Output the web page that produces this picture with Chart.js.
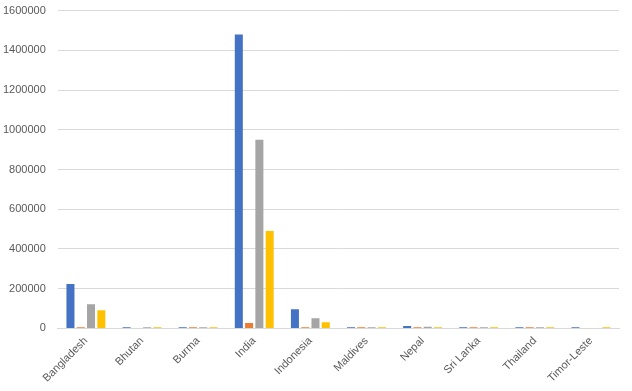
<!DOCTYPE html>
<html>
<head>
<meta charset="utf-8">
<script src="https://cdn.jsdelivr.net/npm/chart.js@4/dist/chart.umd.min.js"></script>
<style>
html,body{margin:0;padding:0;background:#fff;overflow:hidden;}
#wrap{width:632px;height:399px;position:absolute;left:0;top:-8px;}
</style>
</head>
<body>
<div id="wrap"><canvas id="c"></canvas></div>
<script>
const categories = ["Bangladesh","Bhutan","Burma","India","Indonesia","Maldives","Nepal","Sri Lanka","Thailand","Timor-Leste"];
const series1 = [224000, 6000, 6000, 1480000, 97000, 6000, 13000, 6000, 6000, 6000];
const series2 = [6000, 0, 6000, 28000, 6000, 6000, 6000, 6000, 6000, 0];
const series3 = [122000, 6000, 6000, 950000, 51000, 6000, 9000, 6000, 6000, 0];
const series4 = [92000, 6000, 6000, 490000, 31000, 6000, 6000, 6000, 6000, 6000];
const seriesNames = ["Series1","Series2","Series3","Series4"];
const yTicks = [0,200000,400000,600000,800000,1000000,1200000,1400000,1600000];

const colors = ["#4472C4","#ED7D31","#A5A5A5","#FFC000"];
const allSeries = [series1, series2, series3, series4];

new Chart(document.getElementById('c'), {
  type: 'bar',
  data: {
    labels: categories,
    datasets: allSeries.map((d,i)=>({
      label: seriesNames[i],
      data: d,
      backgroundColor: colors[i],
      borderWidth: 0,
      categoryPercentage: 0.733,
      barPercentage: 0.78
    }))
  },
  options: {
    responsive: true,
    maintainAspectRatio: false,
    animation: false,
    layout: { padding: { top: 0, right: 13, left: -9, bottom: 0 } },
    plugins: { legend: { display: false }, tooltip: { enabled: false } },
    scales: {
      x: {
        grid: { display: false, drawTicks: false },
        border: { color: '#D9D9D9', width: 1 },
        ticks: {
          color: '#595959',
          font: { family: 'Liberation Sans, Arial, sans-serif', size: 11 },
          maxRotation: 45, minRotation: 45,
          padding: 6
        }
      },
      y: {
        min: 0, max: 1600000,
        afterBuildTicks: (axis) => { axis.ticks = yTicks.map(v => ({ value: v })); },
        grid: { color: '#D9D9D9', drawTicks: false },
        border: { display: false },
        ticks: {
          color: '#595959',
          font: { family: 'Liberation Sans, Arial, sans-serif', size: 11 },
          padding: 12,
          callback: v => String(v)
        }
      }
    }
  }
});
</script>
</body>
</html>
